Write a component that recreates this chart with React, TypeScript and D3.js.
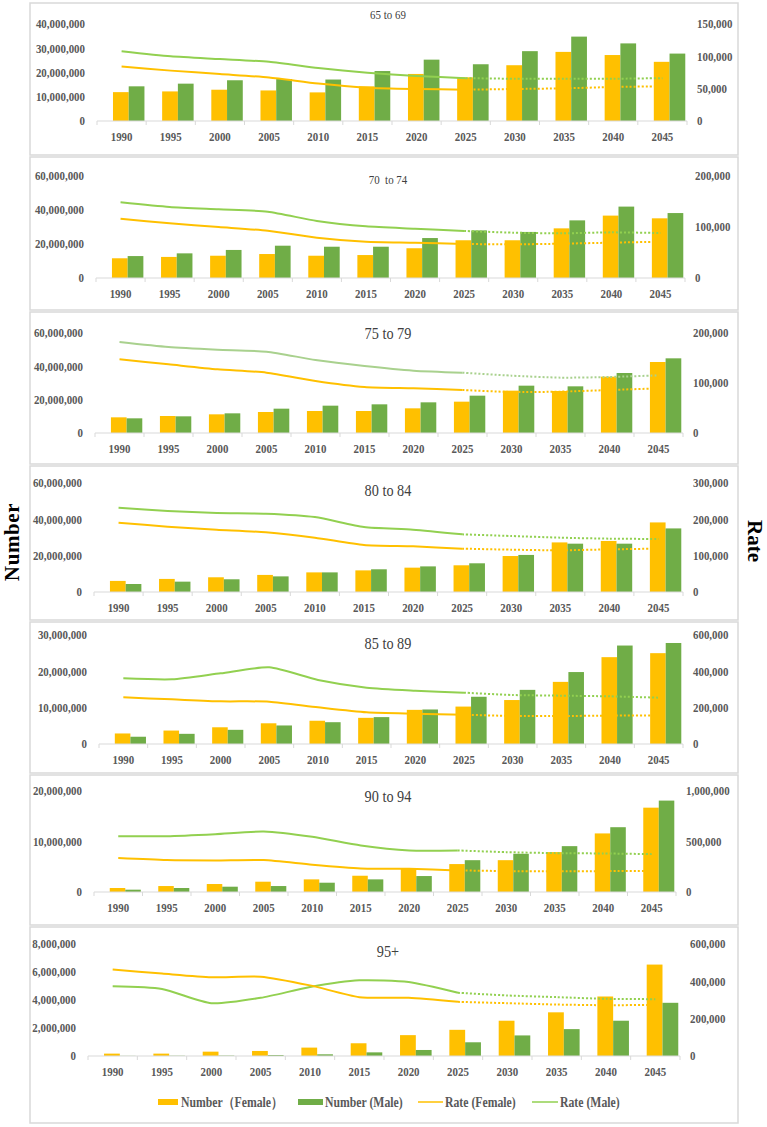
import * as d3 from "d3"

// categories
const years = ["1990", "1995", "2000", "2005", "2010", "2015", "2020", "2025", "2030", "2035", "2040", "2045"]
const ageGroups = ["65 to 69", "70  to 74", "75 to 79", "80 to 84", "85 to 89", "90 to 94", "95+"]
const projectionStart = "2025"

// 65 to 69
const femaleNum6569 = [11900000, 12200000, 12900000, 12600000, 11800000, 14300000, 19400000, 18000000, 23000000, 28500000, 27200000, 24400000]
const maleNum6569 = [14300000, 15400000, 16800000, 17300000, 17100000, 20600000, 25300000, 23400000, 28800000, 34800000, 32000000, 27800000]
const femaleRate6569 = [84200, 77900, 72600, 67400, 57900, 51600, 49500, 48400, 49500, 50500, 52600, 53700]
const maleRate6569 = [107900, 100000, 95800, 91600, 82100, 74700, 69500, 66300, 65300, 65300, 65300, 66300]
const numTicks6569 = [0, 10000000, 20000000, 30000000, 40000000]
const rateTicks6569 = [0, 50000, 100000, 150000]

// 70 to 74
const femaleNum7074 = [11600000, 12400000, 13100000, 14100000, 13100000, 13500000, 17500000, 22200000, 22200000, 29200000, 36700000, 35100000]
const maleNum7074 = [12900000, 14500000, 16500000, 19000000, 18400000, 18400000, 23500000, 28000000, 27100000, 33900000, 42000000, 38200000]
const femaleRate7074 = [116300, 107200, 100000, 92800, 79100, 71200, 69300, 66700, 66000, 67300, 69300, 71200]
const maleRate7074 = [148400, 139200, 134600, 130000, 111800, 101300, 96700, 92200, 88900, 87600, 89500, 88200]
const numTicks7074 = [0, 20000000, 40000000, 60000000]
const rateTicks7074 = [0, 100000, 200000]

// 75 to 79
const femaleNum7579 = [9400000, 10200000, 11200000, 12600000, 13200000, 13200000, 14800000, 18800000, 25400000, 25200000, 33800000, 42600000]
const maleNum7579 = [8800000, 10000000, 11800000, 14600000, 16400000, 17200000, 18400000, 22400000, 28400000, 28000000, 36000000, 44800000]
const femaleRate7579 = [147300, 137300, 127300, 120700, 104000, 92000, 89300, 86000, 82000, 82700, 86000, 89300]
const maleRate7579 = [182000, 172000, 166700, 162700, 146000, 134000, 124700, 120700, 114700, 110700, 112000, 115300]
const numTicks7579 = [0, 20000000, 40000000, 60000000]
const rateTicks7579 = [0, 100000, 200000]

// 80 to 84
const femaleNum8084 = [6100000, 7200000, 8100000, 9400000, 10800000, 11900000, 13400000, 14700000, 19800000, 27300000, 28100000, 38300000]
const maleNum8084 = [4400000, 5700000, 7000000, 8600000, 10800000, 12500000, 14100000, 15800000, 20400000, 26600000, 26600000, 35000000]
const femaleRate8084 = [190800, 179800, 171600, 164200, 149500, 129400, 125700, 119300, 116500, 114700, 117400, 119300]
const maleRate8084 = [232100, 222900, 217400, 215600, 206400, 178900, 171600, 158700, 154100, 149500, 146800, 145900]
const numTicks8084 = [0, 20000000, 40000000, 60000000]
const rateTicks8084 = [0, 100000, 200000, 300000]

// 85 to 89
const femaleNum8589 = [2900000, 3700000, 4600000, 5700000, 6400000, 7200000, 9400000, 10300000, 12100000, 17100000, 23900000, 25000000]
const maleNum8589 = [2000000, 2800000, 3900000, 5100000, 6000000, 7400000, 9500000, 13000000, 14900000, 19800000, 27100000, 27800000]
const femaleRate8589 = [256900, 245900, 234900, 233000, 201800, 174300, 167000, 161500, 154100, 154100, 156000, 157800]
const maleRate8589 = [361500, 356000, 389000, 422000, 352300, 310000, 293600, 282600, 269700, 266000, 262400, 255000]
const numTicks8589 = [0, 10000000, 20000000, 30000000]
const rateTicks8589 = [0, 200000, 400000, 600000]

// 90 to 94
const femaleNum9094 = [790000, 1180000, 1580000, 2040000, 2500000, 3220000, 4600000, 5530000, 6300000, 7900000, 11600000, 16700000]
const maleNum9094 = [460000, 790000, 1050000, 1180000, 1840000, 2500000, 3160000, 6300000, 7570000, 9080000, 12830000, 18100000]
const femaleRate9094 = [335500, 315800, 312500, 315800, 269700, 233600, 230300, 213800, 207200, 204000, 207000, 207000]
const maleRate9094 = [552600, 552600, 572400, 598700, 546000, 460500, 411200, 411200, 394700, 384900, 381600, 375000]
const numTicks9094 = [0, 10000000, 20000000]
const rateTicks9094 = [0, 500000, 1000000]

// 95+
const femaleNum95 = [170000, 170000, 310000, 360000, 600000, 910000, 1490000, 1870000, 2520000, 3120000, 4250000, 6530000]
const maleNum95 = [10000, 20000, 30000, 70000, 120000, 260000, 430000, 980000, 1470000, 1920000, 2520000, 3800000]
const femaleRate95 = [463000, 441400, 421600, 425200, 378400, 315300, 311700, 290100, 282900, 275700, 272000, 273900]
const maleRate95 = [373000, 358600, 282900, 311700, 369400, 405400, 396400, 338700, 324300, 315300, 306300, 304500]
const numTicks95 = [0, 2000000, 4000000, 6000000, 8000000]
const rateTicks95 = [0, 200000, 400000, 600000]

const legendLabels = ["Number（Female）", "Number (Male)", "Rate (Female)", "Rate (Male)"]

const panels = [
  { title: ageGroups[0], female: femaleNum6569, male: maleNum6569, rateF: femaleRate6569, rateM: maleRate6569, numTicks: numTicks6569, rateTicks: rateTicks6569 },
  { title: ageGroups[1], female: femaleNum7074, male: maleNum7074, rateF: femaleRate7074, rateM: maleRate7074, numTicks: numTicks7074, rateTicks: rateTicks7074 },
  { title: ageGroups[2], female: femaleNum7579, male: maleNum7579, rateF: femaleRate7579, rateM: maleRate7579, numTicks: numTicks7579, rateTicks: rateTicks7579 },
  { title: ageGroups[3], female: femaleNum8084, male: maleNum8084, rateF: femaleRate8084, rateM: maleRate8084, numTicks: numTicks8084, rateTicks: rateTicks8084 },
  { title: ageGroups[4], female: femaleNum8589, male: maleNum8589, rateF: femaleRate8589, rateM: maleRate8589, numTicks: numTicks8589, rateTicks: rateTicks8589 },
  { title: ageGroups[5], female: femaleNum9094, male: maleNum9094, rateF: femaleRate9094, rateM: maleRate9094, numTicks: numTicks9094, rateTicks: rateTicks9094 },
  { title: ageGroups[6], female: femaleNum95, male: maleNum95, rateF: femaleRate95, rateM: maleRate95, numTicks: numTicks95, rateTicks: rateTicks95 },
]

// layout of each panel (frame, plot box, title)
const layout = [
  { frameTop: 3, frameBottom: 155, top: 24, bottom: 121, x0: 97, x1: 687, titleY: 15, titleSize: 13, maleLine: "#92D050" },
  { frameTop: 157, frameBottom: 310, top: 176, bottom: 278, x0: 96, x1: 685, titleY: 180, titleSize: 13, maleLine: "#92D050" },
  { frameTop: 312, frameBottom: 464, top: 333, bottom: 433, x0: 95, x1: 683, titleY: 333, titleSize: 17, maleLine: "#A9D18E" },
  { frameTop: 466, frameBottom: 620, top: 483, bottom: 592, x0: 94, x1: 683, titleY: 490, titleSize: 17, maleLine: "#92D050" },
  { frameTop: 622, frameBottom: 773, top: 635, bottom: 744, x0: 99, x1: 683, titleY: 643, titleSize: 17, maleLine: "#92D050" },
  { frameTop: 775, frameBottom: 925, top: 791, bottom: 892, x0: 94, x1: 676, titleY: 796, titleSize: 17, maleLine: "#92D050" },
  { frameTop: 927, frameBottom: 1123, top: 944, bottom: 1056, x0: 88, x1: 680, titleY: 951, titleSize: 17, maleLine: "#92D050" },
]

const FONT = "'Liberation Serif', 'Times New Roman', serif"
const FEMALE = "#FFC000"
const MALE = "#70AD47"
const TICK = "#595959"
const SQUEEZE = 0.84
const fmt = d3.format(",")

// condensed text, like the narrow Times of the original
function CText({ x, y, anchor = "start", size, bold = true, fill = TICK, children, pre = false }: any) {
  return (
    <text
      transform={`translate(${x},${y}) scale(${SQUEEZE},1)`}
      textAnchor={anchor}
      dominantBaseline="central"
      fontSize={size}
      fontWeight={bold ? "bold" : "normal"}
      fill={fill}
      style={pre ? { whiteSpace: "pre" } : undefined}
    >
      {children}
    </text>
  )
}

function Panel({ p, l }: { p: typeof panels[0]; l: typeof layout[0] }) {
  const x = d3.scaleBand<string>().domain(years).range([l.x0, l.x1])
  const step = x.step()
  const cx = (yr: string) => (x(yr) as number) + step / 2
  const yN = d3.scaleLinear().domain([0, d3.max(p.numTicks) as number]).range([l.bottom, l.top])
  const yR = d3.scaleLinear().domain([0, d3.max(p.rateTicks) as number]).range([l.bottom, l.top])
  const bw = step * 0.32
  const shift = step * 0.145

  const split = years.indexOf(projectionStart)
  const line = d3.line<[string, number]>()
    .x((d) => cx(d[0]))
    .y((d) => yR(d[1]))
    .curve(d3.curveCardinal.tension(0.35))

  const seriesPts = (vals: number[]) => years.map((yr, i) => [yr, vals[i]] as [string, number])
  const fPts = seriesPts(p.rateF)
  const mPts = seriesPts(p.rateM)

  return (
    <g>
      <rect x={30} y={l.frameTop} width={708} height={l.frameBottom - l.frameTop} fill="#fff" stroke="#d9d9d9" strokeWidth={1.5} />
      <CText x={388} y={l.titleY} anchor="middle" size={l.titleSize} bold={false} fill="#404040" pre>
        {p.title}
      </CText>

      {/* left axis */}
      {p.numTicks.map((t) => (
        <CText key={"n" + t} x={l.x0 - 12} y={yN(t)} anchor="end" size={13}>
          {fmt(t)}
        </CText>
      ))}
      {/* right axis */}
      {p.rateTicks.map((t) => (
        <CText key={"r" + t} x={l.x1 + 10} y={yR(t)} size={13}>
          {fmt(t)}
        </CText>
      ))}

      {/* bars */}
      {years.map((yr, i) => (
        <g key={yr}>
          <rect x={cx(yr) + shift - bw} y={yN(p.female[i])} width={bw} height={l.bottom - yN(p.female[i])} fill={FEMALE} />
          <rect x={cx(yr) + shift} y={yN(p.male[i])} width={bw} height={l.bottom - yN(p.male[i])} fill={MALE} />
        </g>
      ))}

      {/* x axis */}
      <line x1={l.x0} x2={l.x1} y1={l.bottom} y2={l.bottom} stroke="#d9d9d9" strokeWidth={1.2} />
      {[...years.map((yr) => x(yr) as number), l.x1].map((bx, i) => (
        <line key={i} x1={bx} x2={bx} y1={l.bottom} y2={l.bottom + 4} stroke="#d9d9d9" />
      ))}
      {years.map((yr) => (
        <CText key={yr} x={cx(yr)} y={l.bottom + 16} anchor="middle" size={13}>
          {yr}
        </CText>
      ))}

      {/* rate lines */}
      <path d={line(mPts.slice(0, split + 1)) || ""} fill="none" stroke={l.maleLine} strokeWidth={2} />
      <path d={line(mPts.slice(split)) || ""} fill="none" stroke={l.maleLine} strokeWidth={2} strokeDasharray="2 2" />
      <path d={line(fPts.slice(0, split + 1)) || ""} fill="none" stroke={FEMALE} strokeWidth={2} />
      <path d={line(fPts.slice(split)) || ""} fill="none" stroke={FEMALE} strokeWidth={2} strokeDasharray="2 2" />
    </g>
  )
}

function Legend() {
  const y = 1102
  return (
    <g>
      <rect x={158} y={y - 3} width={20} height={6} fill={FEMALE} />
      <CText x={181} y={y} size={14}>{legendLabels[0]}</CText>
      <rect x={298} y={y - 3} width={25} height={6} fill={MALE} />
      <CText x={325} y={y} size={14}>{legendLabels[1]}</CText>
      <line x1={418} x2={443} y1={y} y2={y} stroke={FEMALE} strokeWidth={1.5} />
      <CText x={445} y={y} size={14}>{legendLabels[2]}</CText>
      <line x1={532} x2={558} y1={y} y2={y} stroke="#92D050" strokeWidth={1.5} />
      <CText x={560} y={y} size={14}>{legendLabels[3]}</CText>
    </g>
  )
}

export default function App() {
  const width = 767
  const height = 1127
  return (
    <svg width={width} height={height} fontFamily={FONT} style={{ position: "absolute", left: 0, top: 0, display: "block" }}>
      <rect width={width} height={height} fill="#fff" />
      {panels.map((p, i) => (
        <Panel key={p.title} p={p} l={layout[i]} />
      ))}
      <Legend />
      <text transform="translate(12,542) rotate(-90)" textAnchor="middle" dominantBaseline="central" fontSize={21} fontWeight="bold" letterSpacing={0.6} fill="#000">
        Number
      </text>
      <text transform="translate(755,541) rotate(90)" textAnchor="middle" dominantBaseline="central" fontSize={21} fontWeight="bold" fill="#000">
        Rate
      </text>
    </svg>
  )
}
